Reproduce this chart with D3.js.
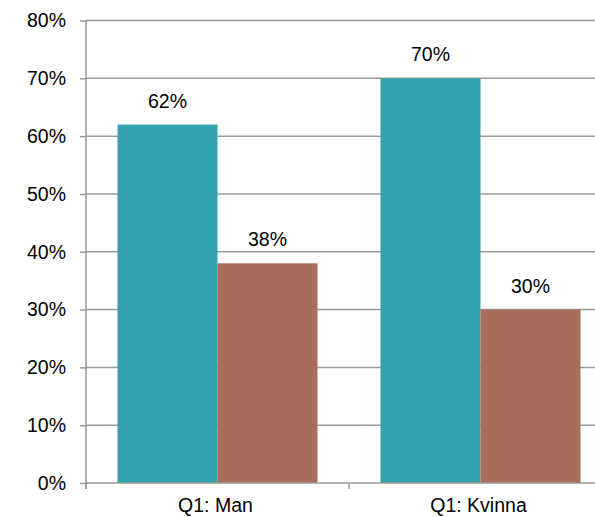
<!DOCTYPE html>
<html><head><meta charset="utf-8">
<script src="https://cdn.jsdelivr.net/npm/d3@7"></script>
<style>body{margin:0;background:#fff}svg{display:block}text{font-family:"Liberation Sans",Arial,sans-serif;fill:#000}</style>
</head><body><svg id="c" width="595" height="517"></svg>
<script>
const categories = ["Q1: Man", "Q1: Kvinna"];
const seriesNames = ["A", "B"];
const seriesA = [0.62, 0.70];
const seriesB = [0.38, 0.30];
const yTicks = [0, 0.1, 0.2, 0.3, 0.4, 0.5, 0.6, 0.7, 0.8];
const colors = ["#31A2AE", "#A86E59"];

(function(){
const svg = d3.select("#c");
const pLeft = 86, pRight = 612, pTop = 20.5, pBottom = 483;
const fs = 19.5;
const x = d3.scaleBand().domain(categories).range([pLeft, pRight]).paddingInner(0).paddingOuter(0);
const x1 = d3.scaleBand().domain(seriesNames).range([0, x.bandwidth()]).paddingInner(0).paddingOuter(0.315);
const y = d3.scaleLinear().domain([0, 0.8]).range([pBottom, pTop]);
const fmt = d3.format(".0%");

svg.append("g").selectAll("line").data(yTicks.filter(d => d > 0)).join("line")
  .attr("x1", pLeft).attr("x2", pRight).attr("y1", d => y(d)).attr("y2", d => y(d))
  .attr("stroke", "#9a9a9a").attr("stroke-width", 1.5);

const rows = categories.map((c, i) => ({c, vals: [seriesA[i], seriesB[i]]}));
const g = svg.append("g").selectAll("g").data(rows).join("g").attr("transform", d => `translate(${x(d.c)},0)`);
g.selectAll("rect").data(d => d.vals.map((v, j) => ({v, s: seriesNames[j], j}))).join("rect")
  .attr("x", d => x1(d.s)).attr("width", x1.bandwidth())
  .attr("y", d => y(d.v)).attr("height", d => y(0) - y(d.v))
  .attr("fill", d => colors[d.j]);
g.selectAll("text").data(d => d.vals.map((v, j) => ({v, s: seriesNames[j]}))).join("text")
  .attr("x", d => x1(d.s) + x1.bandwidth() / 2).attr("y", d => y(d.v) - 17)
  .attr("text-anchor", "middle").attr("font-size", fs).text(d => fmt(d.v));

const yAxis = d3.axisLeft(y).tickValues(yTicks).tickFormat(fmt).tickSize(6).tickPadding(14);
const ya = svg.append("g").attr("transform", `translate(${pLeft},0)`).call(yAxis);
ya.select(".domain").remove();
ya.selectAll(".tick line").attr("stroke", "#9a9a9a").attr("stroke-width", 1.5);
ya.selectAll(".tick text").attr("font-size", fs).attr("font-family", "Liberation Sans, Arial, sans-serif").attr("fill", "#000");
svg.append("line").attr("x1", pLeft).attr("x2", pLeft).attr("y1", pTop).attr("y2", pBottom + 6)
  .attr("stroke", "#9a9a9a").attr("stroke-width", 1.5);

svg.append("line").attr("x1", pLeft).attr("x2", pRight).attr("y1", pBottom).attr("y2", pBottom)
  .attr("stroke", "#9a9a9a").attr("stroke-width", 1.5);
const bounds = categories.map(c => x(c)).concat([pRight]);
svg.append("g").selectAll("line").data(bounds).join("line")
  .attr("x1", d => d).attr("x2", d => d).attr("y1", pBottom).attr("y2", pBottom + 6)
  .attr("stroke", "#9a9a9a").attr("stroke-width", 1.5);
svg.append("g").selectAll("text").data(categories).join("text")
  .attr("x", d => x(d) + x.bandwidth() / 2 - 2).attr("y", 512)
  .attr("text-anchor", "middle").attr("font-size", fs).text(d => d);
})();
</script></body></html>
